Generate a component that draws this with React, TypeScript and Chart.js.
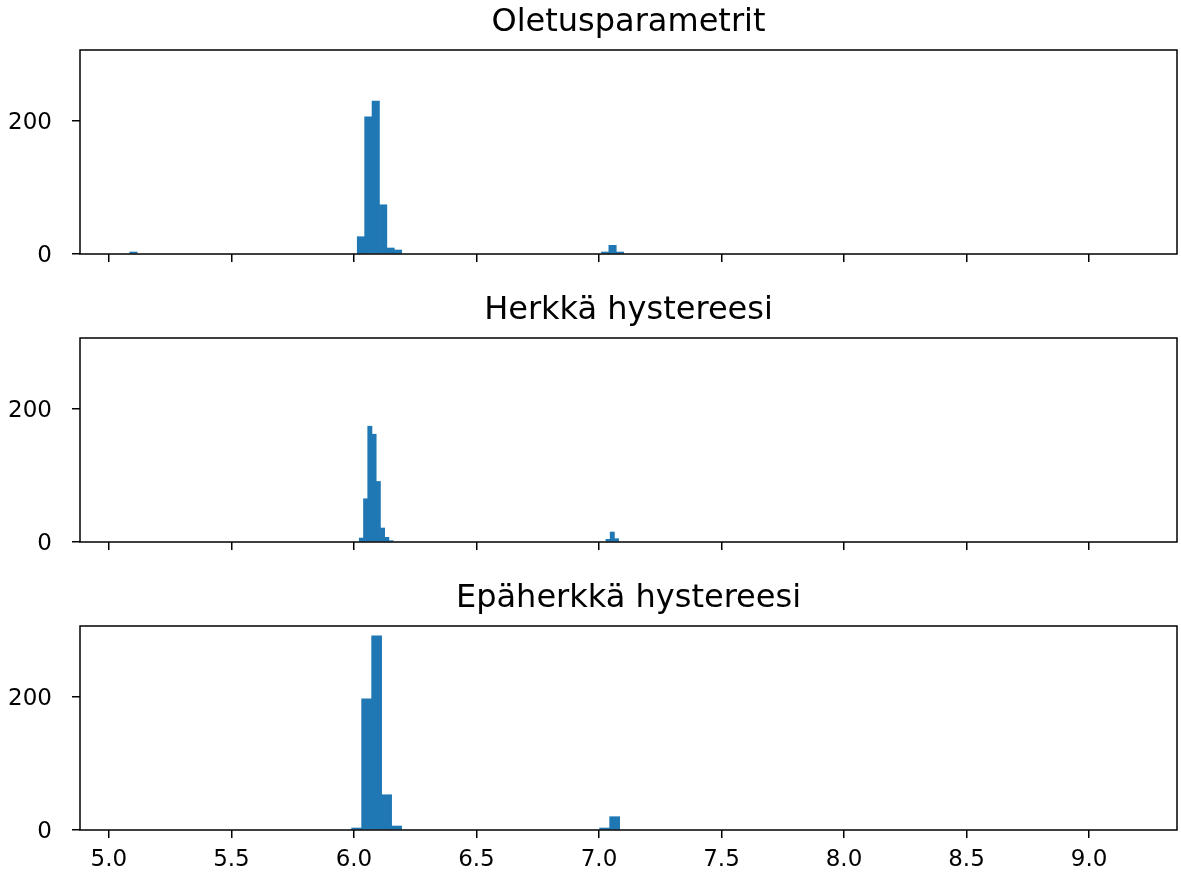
import React, { useEffect, useRef } from "react";
import { Chart, registerables } from "chart.js";

Chart.register(...registerables);

// ---- data ----
const titles = ["Oletusparametrit", "Herkkä hystereesi", "Epäherkkä hystereesi"];

const xTickValues = [5.0, 5.5, 6.0, 6.5, 7.0, 7.5, 8.0, 8.5, 9.0];
const yTickValues = [0, 200];
const xMin = 4.882;
const xMax = 9.359;
const yMax = 306.6;

// bin centres and counts (histogram)
const p1Centers = [5.1, 6.0286, 6.0588, 6.089, 6.1192, 6.1494, 6.1796, 7.0252, 7.0554, 7.0856];
const p1Counts = [3, 26, 206, 230, 74, 9, 6, 3, 13, 3];

const p2Centers = [6.0303, 6.0476, 6.0649, 6.0822, 6.0995, 6.1168, 6.1341, 6.1514, 7.037, 7.0543, 7.0716];
const p2Counts = [6, 65, 174, 162, 91, 21, 7, 2, 4, 15, 5];

const p3Centers = [6.011, 6.0518, 6.0926, 6.1334, 6.1742, 7.023, 7.064];
const p3Counts = [3, 197, 292, 53, 6, 3, 20];

const panelCenters = [p1Centers, p2Centers, p3Centers];
const panelCounts = [p1Counts, p2Counts, p3Counts];

// ---- layout ----
const panels = [
  { top: 0, height: 294, labels: false, xAxisHeight: 40 },
  { top: 288, height: 294, labels: false, xAxisHeight: 40 },
  { top: 576, height: 298, labels: true, xAxisHeight: 44 },
];

const boxPlugin = {
  id: "box",
  afterDatasetsDraw(chart: any) {
    const { ctx, chartArea } = chart;
    const { left, top, right, bottom } = chartArea;
    ctx.save();
    ctx.strokeStyle = "#000";
    ctx.lineWidth = 1.5;
    ctx.strokeRect(left, top, right - left, bottom - top);
    ctx.restore();
  },
};

const axesTitlePlugin = {
  id: "axesTitle",
  afterDraw(chart: any, _args: any, opts: any) {
    const { ctx, chartArea } = chart;
    ctx.save();
    ctx.fillStyle = "#000";
    ctx.font = "32px 'DejaVu Sans', sans-serif";
    ctx.textAlign = "center";
    ctx.textBaseline = "middle";
    ctx.fillText(opts.text, (chartArea.left + chartArea.right) / 2, chartArea.top - 27);
    ctx.restore();
  },
};

export default function App() {
  const refs = [useRef<HTMLCanvasElement>(null), useRef<HTMLCanvasElement>(null), useRef<HTMLCanvasElement>(null)];

  useEffect(() => {
    Chart.defaults.font.family = "'DejaVu Sans', sans-serif";
    Chart.defaults.color = "#000";
    const charts: Chart[] = [];
    panels.forEach((p, idx) => {
      const canvas = refs[idx].current;
      if (!canvas) return;
      const centers = panelCenters[idx];
      const counts = panelCounts[idx];
      const chart = new Chart(canvas, {
        type: "bar",
        data: {
          datasets: [
            {
              data: centers.map((x, i) => ({ x, y: counts[i] })),
              backgroundColor: "#1f77b4",
              borderWidth: 0,
              barPercentage: 1,
              categoryPercentage: 1,
            } as any,
          ],
        },
        options: {
          animation: false,
          responsive: false,
          maintainAspectRatio: false,
          layout: { padding: { left: 0, right: 4, top: 50, bottom: 0 } },
          plugins: {
            legend: { display: false },
            tooltip: { enabled: false },
            title: { display: false },
            axesTitle: { text: titles[idx] },
          } as any,
          scales: {
            x: {
              type: "linear",
              min: xMin,
              max: xMax,
              bounds: "data",
              offset: false,
              grid: {
                offset: false,
                drawOnChartArea: false,
                drawTicks: true,
                tickLength: 8,
                color: "#000",
                lineWidth: 1.5,
              },
              border: { display: false },
              ticks: {
                display: p.labels,
                maxRotation: 0,
                autoSkip: false,
                padding: 8,
                color: "#000",
                font: { size: 23 },
                callback: (v: any) => Number(v).toFixed(1),
              },
              afterBuildTicks: (s: any) => {
                s.ticks = xTickValues.map((v) => ({ value: v }));
              },
              afterFit: (s: any) => {
                s.height = p.xAxisHeight;
              },
            } as any,
            y: {
              type: "linear",
              min: 0,
              max: yMax,
              bounds: "data",
              grid: {
                drawOnChartArea: false,
                drawTicks: true,
                tickLength: 8,
                color: "#000",
                lineWidth: 1.5,
              },
              border: { display: false },
              ticks: {
                padding: 20,
                labelOffset: 2,
                color: "#000",
                font: { size: 23 },
                callback: (v: any) => String(v),
              },
              afterBuildTicks: (s: any) => {
                s.ticks = yTickValues.map((v) => ({ value: v }));
              },
              afterFit: (s: any) => {
                s.width = 80;
              },
            } as any,
          },
        },
        plugins: [boxPlugin, axesTitlePlugin],
      });
      charts.push(chart);
    });
    return () => {
      charts.forEach((c) => c.destroy());
    };
  }, []);

  return (
    <div style={{ position: "absolute", left: 0, top: 0, width: 1181, height: 874, background: "#fff" }}>
      {panels.map((p, i) => (
        <canvas
          key={i}
          ref={refs[i]}
          width={1181}
          height={p.height}
          style={{ position: "absolute", left: 0, top: p.top, width: 1181, height: p.height }}
        />
      ))}
    </div>
  );
}
